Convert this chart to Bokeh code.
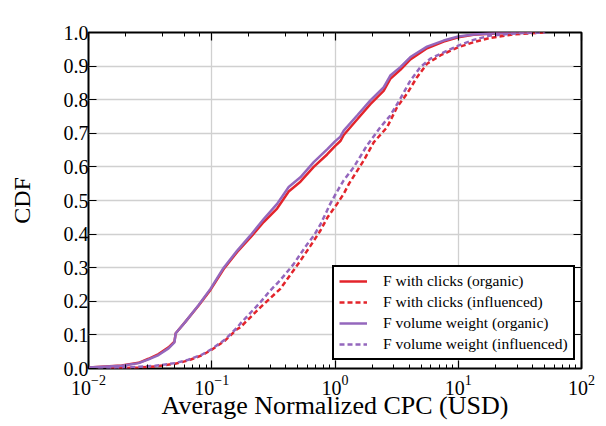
from bokeh.plotting import figure
from bokeh.models import (Range1d, LogAxis, LinearAxis, FixedTicker, LogTicker,
                          PrintfTickFormatter, Legend, LegendItem)
from bokeh.embed import file_html
from bokeh.resources import INLINE

FONT = "Liberation Serif"

# ---- data ----
x_org = [0.01, 0.0186, 0.0255, 0.0307, 0.037, 0.0446, 0.0498, 0.051, 0.0608, 0.078,
         0.0976, 0.125, 0.161, 0.206, 0.264, 0.339, 0.421, 0.524, 0.672, 0.863,
         1.0, 1.106, 1.177, 1.511, 1.937, 2.48, 2.81, 3.39, 4.09, 5.58,
         7.61, 10.0, 13.3, 18.2, 31.0, 40.0]
y_clicks_org = [0.003, 0.009, 0.017, 0.029, 0.043, 0.063, 0.08, 0.105, 0.138, 0.187,
                0.234, 0.296, 0.347, 0.39, 0.436, 0.476, 0.527, 0.556, 0.60, 0.637,
                0.662, 0.677, 0.695, 0.741, 0.787, 0.826, 0.862, 0.889, 0.92, 0.953,
                0.973, 0.986, 0.993, 0.996, 1.0, 1.0]
y_volume_org = [0.003, 0.008, 0.016, 0.027, 0.04, 0.06, 0.078, 0.105, 0.138, 0.188,
                0.237, 0.30, 0.351, 0.396, 0.445, 0.49, 0.54, 0.569, 0.614, 0.652,
                0.676, 0.69, 0.708, 0.753, 0.798, 0.837, 0.872, 0.897, 0.927, 0.958,
                0.976, 0.988, 0.994, 0.997, 1.0, 1.0]

x_clicks_inf = [0.015, 0.0255, 0.0348, 0.0504, 0.0647, 0.083, 0.1, 0.128, 0.159, 0.171,
                0.248, 0.36, 0.5, 0.632, 0.76, 0.87, 1.04, 1.177, 1.3, 1.71,
                2.06, 2.646, 3.19, 3.84, 4.63, 5.58, 7.16, 10.0, 13.3, 18.2,
                29.0, 50.8]
y_clicks_inf = [0.0, 0.003, 0.006, 0.014, 0.024, 0.039, 0.056, 0.083, 0.116, 0.123,
                0.182, 0.237, 0.31, 0.365, 0.41, 0.45, 0.49, 0.52, 0.55, 0.619,
                0.673, 0.718, 0.778, 0.818, 0.867, 0.907, 0.932, 0.956, 0.971, 0.984,
                0.995, 1.0]

x_volume_inf = [0.012, 0.0186, 0.0255, 0.0348, 0.0504, 0.0647, 0.083, 0.1, 0.128, 0.159,
                0.171, 0.248, 0.298, 0.358, 0.46, 0.59, 0.672, 0.76, 0.863, 0.915,
                1.04, 1.177, 1.418, 1.82, 2.334, 2.81, 3.39, 4.09, 4.93, 5.94,
                7.61, 10.0, 13.3, 18.2, 31.0, 50.8]
y_volume_inf = [0.0, 0.003, 0.005, 0.008, 0.016, 0.026, 0.041, 0.058, 0.086, 0.12,
                0.134, 0.197, 0.232, 0.262, 0.31, 0.368, 0.395, 0.428, 0.47, 0.49,
                0.527, 0.56, 0.599, 0.664, 0.718, 0.753, 0.803, 0.857, 0.897, 0.922,
                0.941, 0.961, 0.978, 0.991, 0.998, 1.0]

y_ticks = [0.0, 0.1, 0.2, 0.3, 0.4, 0.5, 0.6, 0.7, 0.8, 0.9, 1.0]
labels = ["F with clicks (organic)", "F with clicks (influenced)",
          "F volume weight (organic)", "F volume weight (influenced)"]
x_label = "Average Normalized CPC (USD)"
y_label = "CDF"

RED = "#e3242b"
PURPLE = "#9467bd"

p = figure(width=606, height=426, x_axis_type="log",
           x_range=Range1d(0.01, 100), y_range=Range1d(0, 1),
           output_backend="svg", toolbar_location=None,
           min_border_left=88, min_border_right=25,
           min_border_top=32, min_border_bottom=58)

p.background_fill_color = "white"
p.border_fill_color = "white"
p.outline_line_color = "black"
p.outline_line_width = 2

# grids
p.xgrid.grid_line_color = "#d0d0d0"
p.xgrid.grid_line_width = 1.3
p.ygrid.grid_line_color = "#d0d0d0"
p.ygrid.grid_line_width = 1.3
p.ygrid.ticker = FixedTicker(ticks=y_ticks)

def style_common(ax):
    ax.axis_line_color = None
    ax.major_tick_in = 8
    ax.major_tick_out = 0
    ax.minor_tick_in = 4
    ax.minor_tick_out = 0
    ax.major_tick_line_color = "black"
    ax.minor_tick_line_color = "black"
    ax.major_tick_line_width = 1.2
    ax.major_label_text_font = FONT
    ax.major_label_text_font_size = "20px"
    ax.major_label_text_color = "black"

xb = p.xaxis[0]
style_common(xb)
xb.major_label_standoff = 6
xb.axis_label = x_label
xb.axis_label_text_font = FONT
xb.axis_label_text_font_size = "26px"
xb.axis_label_text_font_style = "normal"
xb.axis_label_text_color = "black"
xb.axis_label_standoff = -7

yl = p.yaxis[0]
style_common(yl)
yl.ticker = FixedTicker(ticks=y_ticks)
yl.formatter = PrintfTickFormatter(format="%.1f")
yl.minor_tick_line_color = None
yl.major_label_standoff = 0
yl.axis_label = y_label
yl.axis_label_text_font = FONT
yl.axis_label_text_font_size = "24px"
yl.axis_label_text_font_style = "normal"
yl.axis_label_text_color = "black"
yl.axis_label_standoff = 26

# mirrored tick-only axes (no labels)
xt = LogAxis(ticker=LogTicker())
style_common(xt)
xt.major_label_text_font_size = "1px"
xt.major_label_text_color = None
xt.major_label_standoff = 0
p.add_layout(xt, "above")

yr = LinearAxis(ticker=FixedTicker(ticks=y_ticks))
style_common(yr)
yr.minor_tick_line_color = None
yr.major_label_text_font_size = "1px"
yr.major_label_text_color = None
yr.major_label_standoff = 0
p.add_layout(yr, "right")

r1 = p.line(x_org, y_clicks_org, line_color=RED, line_width=2.5)
r2 = p.line(x_clicks_inf, y_clicks_inf, line_color=RED, line_width=2.5, line_dash="5 3")
r3 = p.line(x_org, y_volume_org, line_color=PURPLE, line_width=2.5)
r4 = p.line(x_volume_inf, y_volume_inf, line_color=PURPLE, line_width=2.5, line_dash="5 3")

legend = Legend(items=[LegendItem(label=labels[0], renderers=[r1]),
                       LegendItem(label=labels[1], renderers=[r2]),
                       LegendItem(label=labels[2], renderers=[r3]),
                       LegendItem(label=labels[3], renderers=[r4])],
                location=(244, 8))
legend.label_text_font = FONT
legend.label_text_font_size = "15.5px"
legend.label_text_color = "black"
legend.glyph_width = 28
legend.glyph_height = 18
legend.label_height = 18
legend.spacing = 3
legend.padding = 5
legend.margin = 0
legend.label_standoff = 16
legend.border_line_color = "black"
legend.border_line_alpha = 1.0
legend.border_line_width = 2
legend.background_fill_color = "white"
legend.background_fill_alpha = 1.0
p.add_layout(legend)

open("out.html", "w").write(file_html(p, INLINE))
